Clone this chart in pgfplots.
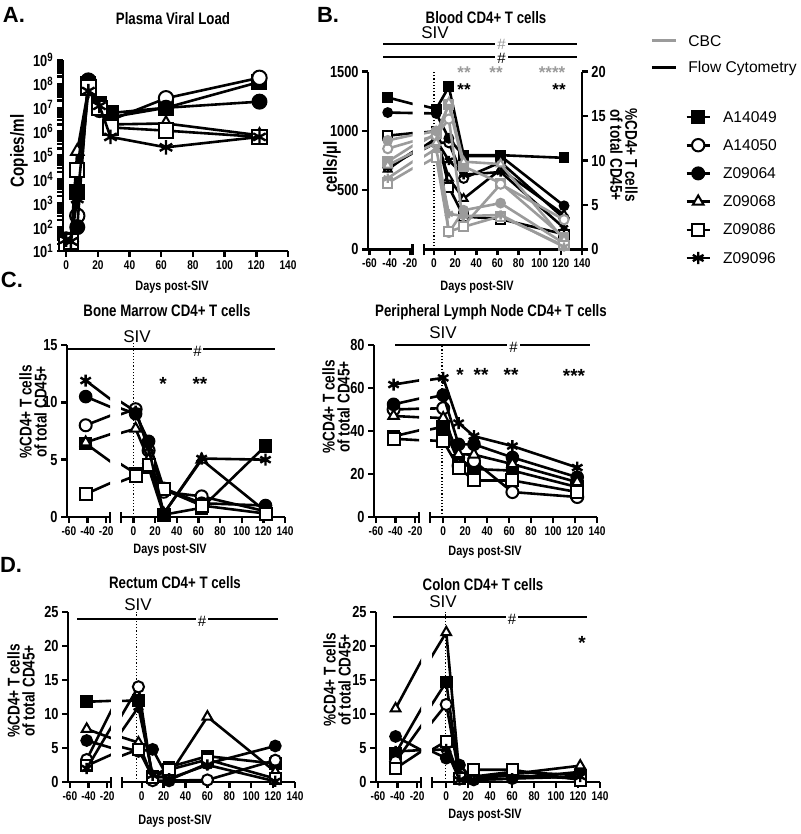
\documentclass[border=0pt]{standalone}
\usepackage{fontspec}
\setmainfont{Liberation Sans}
\newfontfamily\nar{Liberation Sans}[FakeStretch=0.8]
\usepackage{pgfplots}
\usepackage{pgfplotstable}
\pgfplotsset{compat=1.18}
\definecolor{cbc}{RGB}{155,155,155}

\newcommand\xtf{\nar\bfseries\fontsize{6.3}{7}\selectfont}
\newcommand\ytf{\nar\bfseries\fontsize{8}{9}\selectfont}
\newcommand\ttf{\nar\bfseries\fontsize{8.3}{10}\selectfont}
\newcommand\ylf{\nar\bfseries\fontsize{8.5}{7.5}\selectfont}
\newcommand\bigyl{\nar\bfseries\fontsize{9.5}{11}\selectfont}
\newcommand\dpf{\nar\bfseries\fontsize{6.8}{8}\selectfont}
\newcommand\plf{\bfseries\fontsize{11}{13}\selectfont}
\newcommand\sivf{\fontsize{8.5}{10}\selectfont}
\newcommand\hashf{\fontsize{7.5}{9}\selectfont}
\newcommand\stf{\bfseries\fontsize{9.5}{11}\selectfont}
\newcommand\stbf{\bfseries\fontsize{8.5}{9}\selectfont}
\newcommand\lgf{\fontsize{7.8}{9}\selectfont}

\pgfplotstableread{
day A14049 A14050 Z09064 Z09068 Z09086 Z09096
0   25     30     30     25     20     30
3   20     25     30     30     25     25
7   3000   300    100    150000 25000  1500
14  1.0e8  1.3e8  1.4e8  6e7    7e7    5e7
21  1.5e7  1.0e7  8e6    1.2e7  1.0e7  1.2e7
28  6e6    3e6    4e6    2e6    1.5e6  6e5
63  1.0e7  2.5e7  1.0e7  2.2e6  1.1e6  2.2e5
122 1.2e8  1.8e8  1.8e7  7e5    6e5    6e5
}\tabA

\pgfplotstableread{
day A14049 A14050 Z09064 Z09068 Z09086 Z09096
-42 17.1 9.3  15.4 9.0  12.8 9.2
2   15.8 12.0 15.3 12.5 13.3 12.3
14  18.3 12.0 12.5 8.0  7.0  10.0
28  10.6 8.0  10.5 5.7  3.7  8.4
63  10.6 9.8  10.5 9.0  3.4  8.7
123 10.3 3.5  4.9  3.9  1.7  2.4
}\tabBf

\pgfplotstableread{
day A14049 A14050 Z09064 Z09068 Z09086 Z09096
-42 740  850  920  710  560  600
2   980  960  1000 900  780  850
14  1220 1100 140  1240 150  300
28  700  200  330  740  190  280
63  560  550  390  720  280  290
123 100  250  50   80   30   20
}\tabBc

\pgfplotstableread{
day A14049 A14050 Z09064 Z09068 Z09086 Z09096
-42 6.4 8.0 10.5 6.5 2.0 11.9
2   3.8 9.4 9.0  7.7 3.6 9.2
14  4.3 5.8 6.6  5.0 4.5 6.0
28  0.2 2.2 2.5  0.3 2.4 0.3
63  0.8 1.8 1.2  5.0 1.0 5.1
122 6.2 0.5 1.0  0.5 0.3 5.0
}\tabCa

\pgfplotstableread{
day A14049 A14050 Z09064 Z09068 Z09086 Z09096
-42 37.5 50.0 52.4 47.0 36.4 61.6
0   42.0 50.6 56.7 46.0 35.3 64.7
14  26.0 23.9 33.8 29.2 23.0 43.7
28  22.3 26.0 33.8 29.0 17.0 37.6
63  21.6 11.6 27.7 24.6 17.0 33.0
122 13.9 9.3  18.5 16.2 11.6 23.0
}\tabCb

\pgfplotstableread{
day A14049 A14050 Z09064 Z09068 Z09086 Z09096
-42 11.8 3.3  6.1 7.8 2.4 2.0
-3  12.0 14.0 4.5 5.8 4.8 11.0
10  0.8  0.2  4.8 0.5 0.7 1.0
25  2.2  0.2  0.3 1.0 1.8 0.5
60  3.8  0.3  2.7 9.6 3.3 2.5
122 2.7  3.2  5.3 1.5 0.5 0.1
}\tabDa

\pgfplotstableread{
day A14049 A14050 Z09064 Z09068 Z09086 Z09096
-42 4.2  3.0  6.7 10.8 2.0 4.5
0   14.7 11.4 3.5 22.0 6.0 4.8
12  0.5  0.8  2.5 1.0  0.5 0.3
25  0.8  0.5  0.3 0.5  1.8 0.3
60  1.5  1.0  0.5 1.2  1.8 0.5
122 1.0  0.5  1.5 2.4  0.3 0.8
}\tabDb

\pgfplotsset{
 gp/.style={scale only axis, anchor=south west,
   axis x line*=bottom, axis y line*=left,
   axis line style={-, line width=1.4pt},
   tick align=outside, major tick length=3pt,
   tick style={line width=1.2pt, black},
   xticklabel style={font=\xtf, inner sep=1.5pt},
   yticklabel style={font=\ytf, inner sep=1.5pt},
   clip mode=individual},
 mA/.style={mark=square*, mark options={solid, draw=#1, fill=#1, line width=0.8pt}},
 mB/.style={mark=*, mark options={solid, draw=#1, fill=white, line width=1pt}},
 mC/.style={mark=*, mark options={solid, draw=#1, fill=#1, line width=0.8pt}},
 mD/.style={mark=triangle*, mark options={solid, draw=#1, fill=white, line width=1pt}},
 mE/.style={mark=square*, mark options={solid, draw=#1, fill=white, line width=1pt}},
 mF/.style={mark=asterisk, mark options={solid, draw=#1, line width=1.2pt}},
 leftseg/.style={xtick={-60,-40,-20}, xticklabels={-60,-40,-20}, xmin=-62, xmax=-16},
 rightseg/.style={axis y line=none, xtick={0,20,40,60,80,100,120,140},
   xticklabels={0,20,40,60,80,100,120,140}, xmax=140},
}

\newcommand\ser[5]{%
 \addplot[draw=#4, line width=1.3pt, no markers, forget plot] table[x=day,y=#2]{#1};
 \addplot[only marks, #3=#4, restrict x to domain=#5, forget plot] table[x=day,y=#2]{#1};
}
\newcommand\allser[3]{%
 \ser{#1}{A14049}{mA}{#2}{#3}
 \ser{#1}{A14050}{mB}{#2}{#3}
 \ser{#1}{Z09064}{mC}{#2}{#3}
 \ser{#1}{Z09068}{mD}{#2}{#3}
 \ser{#1}{Z09086}{mE}{#2}{#3}
 \ser{#1}{Z09096}{mF}{#2}{#3}
}
\newcommand\brk[1]{\draw[line width=1.2pt] ([yshift=-3pt]rel axis cs:#1,0) -- ([yshift=2.5pt]rel axis cs:#1,0);}

\begin{document}
\begin{tikzpicture}
\path (0pt,0pt) rectangle (400pt,-417pt);

% ---------------- Panel A
\begin{axis}[gp, at={(31.5pt,-125.5pt)}, width=112.5pt, height=95.5pt,
  xmin=-2, xmax=140, ymode=log, ymin=10, ymax=1e9, clip=false,
  xtick={0,20,40,60,80,100,120,140}, xticklabels={0,20,40,60,80,100,120,140},
  ytick={1e1,1e2,1e3,1e4,1e5,1e6,1e7,1e8,1e9},
  yticklabels={10\textsuperscript{1},10\textsuperscript{2},10\textsuperscript{3},10\textsuperscript{4},10\textsuperscript{5},10\textsuperscript{6},10\textsuperscript{7},10\textsuperscript{8},10\textsuperscript{9}},
  mark size=3.6pt]
\allser{\tabA}{black}{-10:200}
\end{axis}

% ---------------- Panel B
\begin{axis}[gp, hide axis, at={(184pt,-124.65pt)}, width=22.25pt, height=88.8pt,
  xmin=-61.5, xmax=-17.5, ymin=0, ymax=20, mark size=2.3pt]
\allser{\tabBf}{black}{-62:-17}
\end{axis}
\begin{axis}[gp, at={(184pt,-124.65pt)}, width=22.25pt, height=88.8pt,
  xmin=-61.5, xmax=-17.5, ymin=0, ymax=1500,
  xtick={-60,-40,-20}, xticklabels={-60,-40,-20},
  ytick={0,500,1000,1500}, yticklabels={0,500,1000,1500}, mark size=2.3pt]
\allser{\tabBc}{cbc}{-62:-17}
\brk{1}
\end{axis}
\begin{axis}[gp, at={(212pt,-124.65pt)}, width=79pt, height=88.8pt,
  xmin=-9.5, xmax=140, ymin=0, ymax=20, axis x line=none, axis y line*=right,
  ytick={0,5,10,15,20}, yticklabels={0,5,10,15,20}, mark size=2.3pt]
\allser{\tabBf}{black}{-9:150}
\end{axis}
\begin{axis}[gp, rightseg, at={(212pt,-124.65pt)}, width=79pt, height=88.8pt,
  xmin=-9.5, ymin=0, ymax=1500, mark size=2.3pt]
\draw[densely dotted, line width=0.6pt] (axis cs:0,0) -- (axis cs:0,1500);
\allser{\tabBc}{cbc}{-9:150}
\brk{0}
\end{axis}

% ---------------- Panel C1
\begin{axis}[gp, leftseg, at={(33.5pt,-258.5pt)}, width=21.5pt, height=86pt,
  ymin=0, ymax=15, ytick={0,5,10,15}, yticklabels={0,5,10,15}, mark size=3pt]
\allser{\tabCa}{black}{-62:-17}
\brk{1}
\end{axis}
\begin{axis}[gp, rightseg, at={(60.5pt,-258.5pt)}, width=82pt, height=86pt,
  xmin=-11.5, ymin=0, ymax=15, mark size=3pt]
\draw[densely dotted, line width=0.6pt] (axis cs:0,0) -- (axis cs:0,15.3);
\allser{\tabCa}{black}{-11:150}
\brk{0}
\end{axis}

% ---------------- Panel C2
\begin{axis}[gp, leftseg, at={(187pt,-258.5pt)}, width=22.5pt, height=86pt,
  ymin=0, ymax=80, ytick={0,20,40,60,80}, yticklabels={0,20,40,60,80}, mark size=3pt]
\allser{\tabCb}{black}{-62:-17}
\brk{1}
\end{axis}
\begin{axis}[gp, rightseg, at={(215pt,-258.5pt)}, width=83.5pt, height=86pt,
  xmin=-12, ymin=0, ymax=80, mark size=3pt]
\draw[densely dotted, line width=0.6pt] (axis cs:-1,0) -- (axis cs:-1,80);
\allser{\tabCb}{black}{-11:150}
\brk{0}
\end{axis}

% ---------------- Panel D1
\begin{axis}[gp, leftseg, at={(34pt,-391pt)}, width=21.5pt, height=85pt,
  ymin=0, ymax=25, ytick={0,5,10,15,20,25}, yticklabels={0,5,10,15,20,25}, mark size=2.8pt]
\allser{\tabDa}{black}{-62:-17}
\brk{1}
\end{axis}
\begin{axis}[gp, rightseg, at={(61pt,-391pt)}, width=86.5pt, height=85pt,
  xmin=-18, ymin=0, ymax=25, mark size=2.8pt]
\draw[densely dotted, line width=0.6pt] (axis cs:-5,0) -- (axis cs:-5,25);
\allser{\tabDa}{black}{-17:150}
\brk{0}
\end{axis}

% ---------------- Panel D2
\begin{axis}[gp, leftseg, at={(188pt,-391pt)}, width=22.5pt, height=85pt,
  ymin=0, ymax=25, ytick={0,5,10,15,20,25}, yticklabels={0,5,10,15,20,25}, mark size=2.8pt]
\allser{\tabDb}{black}{-62:-17}
\brk{1}
\end{axis}
\begin{axis}[gp, rightseg, at={(216pt,-391pt)}, width=84pt, height=85pt,
  xmin=-13, ymin=0, ymax=25, mark size=2.8pt]
\draw[densely dotted, line width=0.6pt] (axis cs:-1,0) -- (axis cs:-1,25);
\allser{\tabDb}{black}{-12:150}
\brk{0}
\end{axis}

% ---------------- Legends
\begin{axis}[hide axis, scale only axis, width=4pt, height=4pt, at={(325pt,-27.25pt)}, anchor=west,
  xmin=0, xmax=1, ymin=0, ymax=1,
  legend style={at={(0,0.5)}, anchor=west, draw=none, fill=none, inner sep=0pt,
    row sep=4.5pt, font=\lgf, nodes={inner sep=0pt, text height=7pt, text depth=2pt},
    /tikz/every odd column/.append style={column sep=5.5pt}},
  legend cell align=left,
  legend image code/.code={\draw[#1] (0pt,0pt) -- (12pt,0pt);}]
\addlegendimage{cbc, line width=1.5pt}
\addlegendentry{CBC}
\addlegendimage{black, line width=1.5pt}
\addlegendentry{Flow Cytometry}
\end{axis}
\begin{axis}[hide axis, scale only axis, width=4pt, height=4pt, at={(342.5pt,-93.75pt)}, anchor=west,
  xmin=0, xmax=1, ymin=0, ymax=1, mark size=3.1pt,
  legend style={at={(0,0.5)}, anchor=west, draw=none, fill=none, inner sep=0pt,
    row sep=5.1pt, font=\lgf, nodes={inner sep=0pt, text height=7pt, text depth=2pt},
    /tikz/every odd column/.append style={column sep=6pt}},
  legend cell align=left,
  legend image code/.code={\draw[mark repeat=2, mark phase=2, #1] plot coordinates {(0pt,0pt) (5.75pt,0pt) (11.5pt,0pt)};}]
\addlegendimage{black, line width=1.3pt, mA=black}
\addlegendentry{A14049}
\addlegendimage{black, line width=1.3pt, mB=black}
\addlegendentry{A14050}
\addlegendimage{black, line width=1.3pt, mC=black}
\addlegendentry{Z09064}
\addlegendimage{black, line width=1.3pt, mD=black}
\addlegendentry{Z09068}
\addlegendimage{black, line width=1.3pt, mE=black}
\addlegendentry{Z09086}
\addlegendimage{black, line width=1.3pt, mF=black}
\addlegendentry{Z09096}
\end{axis}

\begin{scope}[x=0.5pt,y=-0.5pt, every node/.style={inner sep=0pt}]
% ---------------- Panel letters and titles
\node[font=\plf] at (14,15) {A.};
\node[font=\plf] at (328,15) {B.};
\node[font=\plf] at (12,280) {C.};
\node[font=\plf] at (11,565) {D.};
\node[font=\ttf] at (173,19) {Plasma Viral Load};
\node[font=\ttf] at (486,18) {Blood CD4+ T cells};
\node[font=\ttf] at (167,311) {Bone Marrow CD4+ T cells};
\node[font=\ttf] at (491,312) {Peripheral Lymph Node CD4+ T cells};
\node[font=\ttf] at (175,583) {Rectum CD4+ T cells};
\node[font=\ttf] at (483,585) {Colon CD4+ T cells};

% axis labels
\node[font=\bigyl, rotate=90] at (19,151) {Copies/ml};
\node[font=\bigyl, rotate=90] at (332,167) {cells/µl};
\node[font=\ylf, rotate=-90, align=center] at (624,155) {\%CD4+ T cells\\of total CD45+};
\node[font=\ylf, rotate=90, align=center] at (33,412) {\%CD4+ T cells\\of total CD45+};
\node[font=\ylf, rotate=90, align=center] at (336,407) {\%CD4+ T cells\\of total CD45+};
\node[font=\ylf, rotate=90, align=center] at (21,691) {\%CD4+ T cells\\of total CD45+};
\node[font=\ylf, rotate=90, align=center] at (337,680) {\%CD4+ T cells\\of total CD45+};
\node[font=\dpf] at (172,287) {Days post-SIV};
\node[font=\dpf] at (477,287) {Days post-SIV};
\node[font=\dpf] at (170,550) {Days post-SIV};
\node[font=\dpf] at (485,552) {Days post-SIV};
\node[font=\dpf] at (175,821) {Days post-SIV};
\node[font=\dpf] at (485,815) {Days post-SIV};

% SIV bars
\node[font=\sivf] at (435,33) {SIV};
\draw[line width=1.2pt] (383,44) -- (495,44) (508,44) -- (577,44);
\node[font=\hashf, text=cbc] at (501.5,44.5) {\#};
\draw[line width=1.2pt] (383,57) -- (495,57) (508,57) -- (577,57);
\node[font=\hashf] at (501.5,58) {\#};

\node[font=\sivf] at (137,337) {SIV};
\draw[line width=1.2pt] (68,349) -- (192,349) (203,349) -- (275,349);
\node[font=\hashf] at (197.5,351) {\#};

\node[font=\sivf] at (443,333) {SIV};
\draw[line width=1.2pt] (395,345) -- (507,345) (520,345) -- (590,345);
\node[font=\hashf] at (513.5,347) {\#};

\node[font=\sivf] at (138,605) {SIV};
\draw[line width=1.2pt] (77,619) -- (196,619) (208,619) -- (278,619);
\node[font=\hashf] at (202,621) {\#};

\node[font=\sivf] at (443,602) {SIV};
\draw[line width=1.2pt] (393,617) -- (506,617) (518,617) -- (587,617);
\node[font=\hashf] at (512,619) {\#};

% significance stars
\node[font=\stbf, text=cbc, anchor=base] at (464,79) {**};
\node[font=\stbf, text=cbc, anchor=base] at (496,79) {**};
\node[font=\stbf, text=cbc, anchor=base] at (552,79) {****};
\node[font=\stbf, anchor=base] at (464,96) {**};
\node[font=\stbf, anchor=base] at (559,96) {**};
\node[font=\stf, anchor=base] at (163,390) {*};
\node[font=\stf, anchor=base] at (200,390) {**};
\node[font=\stf, anchor=base] at (460,381) {*};
\node[font=\stf, anchor=base] at (481,381) {**};
\node[font=\stf, anchor=base] at (511,381) {**};
\node[font=\stf, anchor=base] at (574,382) {***};
\node[font=\stf, anchor=base] at (582,649) {*};
\end{scope}
\end{tikzpicture}
\end{document}
